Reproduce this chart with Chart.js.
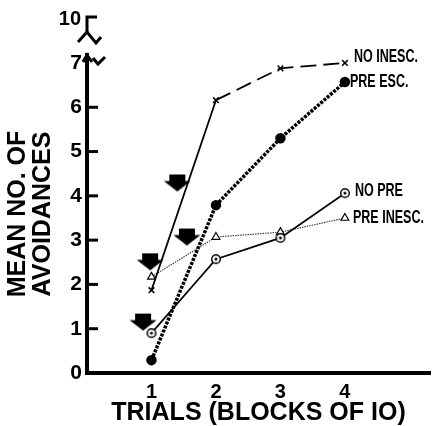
<!DOCTYPE html>
<html>
<head>
<meta charset="utf-8">
<script src="https://cdn.jsdelivr.net/npm/chart.js@4/dist/chart.umd.min.js"></script>
<style>
html,body{margin:0;padding:0;background:#fff;}
#wrap{width:441px;height:426px;position:relative;}
</style>
</head>
<body>
<div id="wrap"><canvas id="c" width="441" height="426"></canvas></div>
<script>
// ---- data ----
const trials = [1, 2, 3, 4];
const xTickLabels = ['1', '2', '3', '4'];
const yTickValues = [0, 1, 2, 3, 4, 5, 6, 7];
const seriesNames = ['NO INESC.', 'PRE ESC.', 'NO PRE', 'PRE INESC.'];
const noInesc = [1.87, 6.16, 6.88, 7.0];
const preEsc = [0.29, 3.79, 5.3, 6.57];
const noPre = [0.9, 2.57, 3.05, 4.06];
const preInesc = [2.17, 3.07, 3.18, 3.5];
const arrowX = [0.98, 0.87, 1.40, 1.55];
const arrowY = [2.51, 1.15, 4.29, 3.07];
const yBreakLabel = '10';

const BLACK = '#000';
const FONT = "'Liberation Sans',Arial,sans-serif";

function pts(vals) { return trials.map((t, i) => ({x: t, y: vals[i]})); }

// custom marker images
function circleDot() {
  const c = document.createElement('canvas'); c.width = 12; c.height = 12;
  const g = c.getContext('2d');
  g.fillStyle = '#fff'; g.strokeStyle = BLACK; g.lineWidth = 1.5;
  g.beginPath(); g.arc(6, 6, 4.3, 0, Math.PI * 2); g.fill(); g.stroke();
  g.fillStyle = BLACK; g.beginPath(); g.arc(6, 6, 1.5, 0, Math.PI * 2); g.fill();
  return c;
}
function arrowImg() {
  const c = document.createElement('canvas'); c.width = 28; c.height = 19;
  const g = c.getContext('2d');
  g.fillStyle = BLACK; g.translate(14, 9.5);
  g.beginPath();
  g.moveTo(-8, -8.5); g.lineTo(8, -8.5); g.lineTo(8, -2); g.lineTo(13.5, -2);
  g.lineTo(0, 8.5); g.lineTo(-13.5, -2); g.lineTo(-8, -2); g.closePath(); g.fill();
  return c;
}
const cdImg = circleDot();
const arImg = arrowImg();

const decor = {
  id: 'decor',
  afterDatasetsDraw(chart) {
    const g = chart.ctx, xs = chart.scales.x, ys = chart.scales.y;
    const ax = chart.chartArea.left;
    g.save();
    g.strokeStyle = BLACK; g.lineCap = 'butt';
    // inward y ticks
    g.lineWidth = 3;
    for (let v = 1; v <= 6; v++) {
      const py = ys.getPixelForValue(v);
      g.beginPath(); g.moveTo(ax, py); g.lineTo(ax + 11, py); g.stroke();
    }
    // break marks
    g.lineWidth = 3; g.lineJoin = 'miter';
    const top = chart.chartArea.top;
    g.beginPath(); g.moveTo(ax - 4, top + 7); g.lineTo(ax, top); g.lineTo(ax + 5, top + 7); g.stroke();
    g.beginPath(); g.moveTo(ax + 6, top + 3); g.lineTo(ax + 11, top + 9); g.lineTo(ax + 18, top + 2); g.stroke();
    // upper stub with 10
    g.beginPath(); g.moveTo(ax + 10, 17); g.lineTo(ax, 17); g.lineTo(ax, 33); g.stroke();
    g.beginPath(); g.moveTo(ax - 9, 42); g.lineTo(ax, 32); g.lineTo(ax + 9, 43); g.lineTo(ax + 14, 37); g.stroke();
    g.fillStyle = BLACK; g.font = "bold 20px " + FONT;
    g.textAlign = 'right'; g.textBaseline = 'middle';
    g.fillText(yBreakLabel, ax - 6, 19);
    // end labels (condensed)
    g.font = "bold 19px " + FONT; g.textAlign = 'left';
    const ends = [noInesc, preEsc, noPre, preInesc];
    const offs = [[9, -6], [5, 0], [10, -2], [8, 0]];
    const sx = 0.66;
    ends.forEach((arr, i) => {
      const px = xs.getPixelForValue(trials[trials.length - 1]) + offs[i][0];
      const py = ys.getPixelForValue(arr[arr.length - 1]) + offs[i][1];
      g.save(); g.translate(px, py); g.scale(sx, 1);
      g.fillText(seriesNames[i], 0, 0);
      g.restore();
    });
    g.restore();
  }
};

new Chart(document.getElementById('c'), {
  type: 'line',
  data: {
    datasets: [
      {label: seriesNames[0], data: pts(noInesc), borderColor: BLACK, borderWidth: 1.8,
       pointStyle: 'crossRot', pointRadius: 4, pointBorderWidth: 1.5, pointBorderColor: BLACK,
       segment: {borderDash: c => c.p0DataIndex === 0 ? [] : [16, 7]}},
      {label: seriesNames[1], data: pts(preEsc), borderColor: BLACK, borderWidth: 3.5, borderDash: [3, 1.3],
       pointStyle: 'circle', pointRadius: 3.5, pointBackgroundColor: BLACK, pointBorderColor: BLACK},
      {label: seriesNames[2], data: pts(noPre), borderColor: BLACK, borderWidth: 1.7,
       pointStyle: cdImg, pointRadius: 5},
      {label: seriesNames[3], data: pts(preInesc), borderColor: '#333', borderWidth: 1.1, borderDash: [1.5, 1],
       pointStyle: 'triangle', pointRadius: 4.5, pointBackgroundColor: '#fff', pointBorderColor: BLACK, pointBorderWidth: 1.2},
      {label: 'arrows', data: arrowX.map((x, i) => ({x, y: arrowY[i]})), showLine: false,
       pointStyle: arImg, pointRadius: 10}
    ]
  },
  options: {
    responsive: false, animation: false,
    layout: {padding: {top: 55, right: 0, left: 0, bottom: 0}},
    plugins: {legend: {display: false}, tooltip: {enabled: false}},
    scales: {
      x: {
        type: 'linear', min: 0, max: 5.32,
        afterBuildTicks: s => { s.ticks = trials.map(v => ({value: v})); },
        afterFit: s => { s.height = 53; },
        grid: {display: false, drawTicks: false},
        border: {display: true, width: 4, color: BLACK},
        ticks: {color: BLACK, font: {family: FONT, weight: 'bold', size: 20}, padding: 7,
                callback: (v) => xTickLabels[trials.indexOf(v)]},
        title: {display: true, text: 'TRIALS (BLOCKS OF IO)', color: BLACK,
                font: {family: FONT, weight: 'bold', size: 25, lineHeight: 1.0}, padding: {top: -3, bottom: 0}}
      },
      y: {
        min: 0, max: 7.18,
        afterBuildTicks: s => { s.ticks = yTickValues.map(v => ({value: v})); },
        afterFit: s => { s.width = 87; },
        grid: {display: false, drawTicks: false},
        border: {display: true, width: 4, color: BLACK},
        ticks: {color: BLACK, font: {family: FONT, weight: 'bold', size: 21}, padding: 5},
        title: {display: true, text: ['MEAN NO. OF', 'AVOIDANCES'], color: BLACK,
                font: {family: FONT, weight: 'bold', size: 25, lineHeight: 0.98}, padding: {top: 6, bottom: 0}}
      }
    }
  },
  plugins: [decor]
});
</script>
</body>
</html>
